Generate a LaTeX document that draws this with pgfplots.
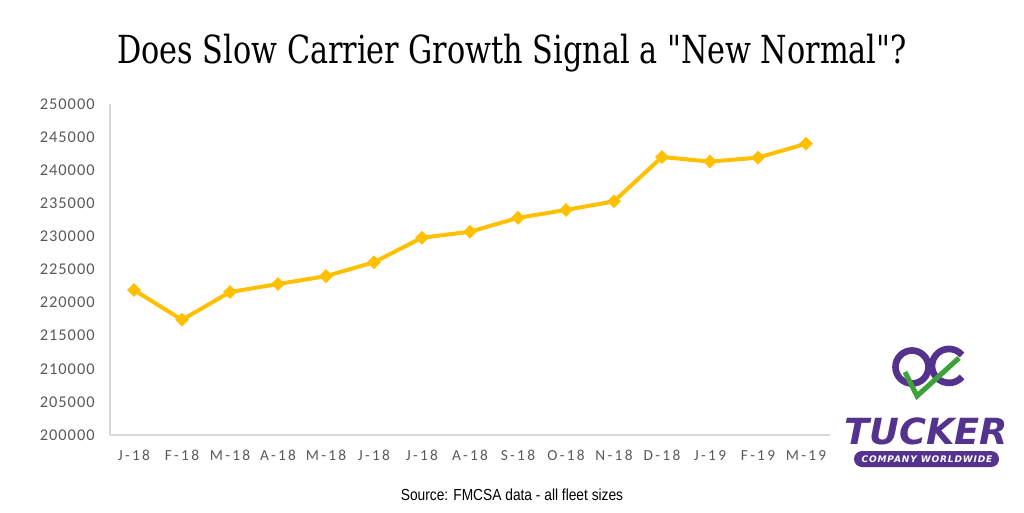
\documentclass[border=0pt]{standalone}
\usepackage{pgfplots}
\pgfplotsset{compat=1.18}
\usepackage{fontspec}
\setmainfont{Carlito}
\newfontfamily\ytickfont{Carlito}[LetterSpace=6]
\newfontfamily\xtickfont{Carlito}[LetterSpace=15]
\newfontfamily\titlefont{DejaVu Serif Condensed}
\newfontfamily\srcfont{Liberation Sans}
\newfontfamily\logofont{DejaVu Sans}
\newfontfamily\bannerfont{DejaVu Sans}[LetterSpace=9]
\definecolor{lineC}{HTML}{FFC000}
\definecolor{tickC}{HTML}{595959}
\definecolor{axisC}{HTML}{D9D9D9}
\definecolor{purp}{HTML}{54338E}
\definecolor{grn}{HTML}{3DA23A}
\begin{document}
\begin{tikzpicture}[x=0.75pt,y=0.75pt]
\useasboundingbox (0,0) rectangle (1024,512);
\node[anchor=center] at (512,459) {\titlefont\fontsize{29}{34}\selectfont\scalebox{0.87}[1]{Does Slow Carrier Growth Signal a "New Normal"?}};
\begin{axis}[
  at={(82.5pt,57.75pt)}, anchor=south west,
  scale only axis, width=540pt, height=248.25pt,
  xmin=-0.5, xmax=14.5, ymin=200000, ymax=250000,
  ytick={200000,205000,...,250000},
  xtick={0,...,14},
  xticklabels={J-18,F-18,M-18,A-18,M-18,J-18,J-18,A-18,S-18,O-18,N-18,D-18,J-19,F-19,M-19},
  axis x line*=bottom, axis y line*=left,
  axis line style={axisC, line width=1.5pt},
  x axis line style={-}, y axis line style={-},
  major tick length=0pt,
  scaled y ticks=false,
  /pgf/number format/assume math mode=true,
  yticklabel={\pgfmathprintnumber[fixed,use comma=false,1000 sep={}]{\tick}},
  yticklabel style={font=\ytickfont\fontsize{12.3}{14}\selectfont, text=tickC, xshift=-8pt},
  xticklabel style={font=\xtickfont\fontsize{11.5}{13}\selectfont, text=tickC, yshift=-8pt},
  clip=false,
]
\addplot[lineC, line width=3pt, mark=square*, mark size=3.4pt, mark options={rotate=45, fill=lineC, draw=lineC, line width=0.5pt}] coordinates {
(0,221900) (1,217400) (2,221600) (3,222800) (4,224000) (5,226100) (6,229800)
(7,230700) (8,232800) (9,234000) (10,235300) (11,242000) (12,241300) (13,241900) (14,244000)
};
\end{axis}
\node[anchor=center] at (512,17) {\srcfont\fontsize{12}{14}\selectfont\scalebox{0.86}[1]{Source: FMCSA data - all fleet sizes}};
% logo
\draw[purp, line width=5pt] (912,145) circle (16.5);
\draw[purp, line width=5pt] (962,157) arc (40:320:17);
\draw[grn, line width=3.8pt, line join=miter] (905,140) -- (917,116) -- (959,154);
\node[purp] at (926,81) {\logofont\bfseries\itshape\fontsize{27}{30}\selectfont\scalebox{1.02}[1]{TUCKER}};
\fill[purp, rounded corners=6pt] (854,45) rectangle (999,61);
\node[white] at (927,53) {\bannerfont\bfseries\itshape\fontsize{6.8}{8}\selectfont COMPANY WORLDWIDE};
\end{tikzpicture}
\end{document}
